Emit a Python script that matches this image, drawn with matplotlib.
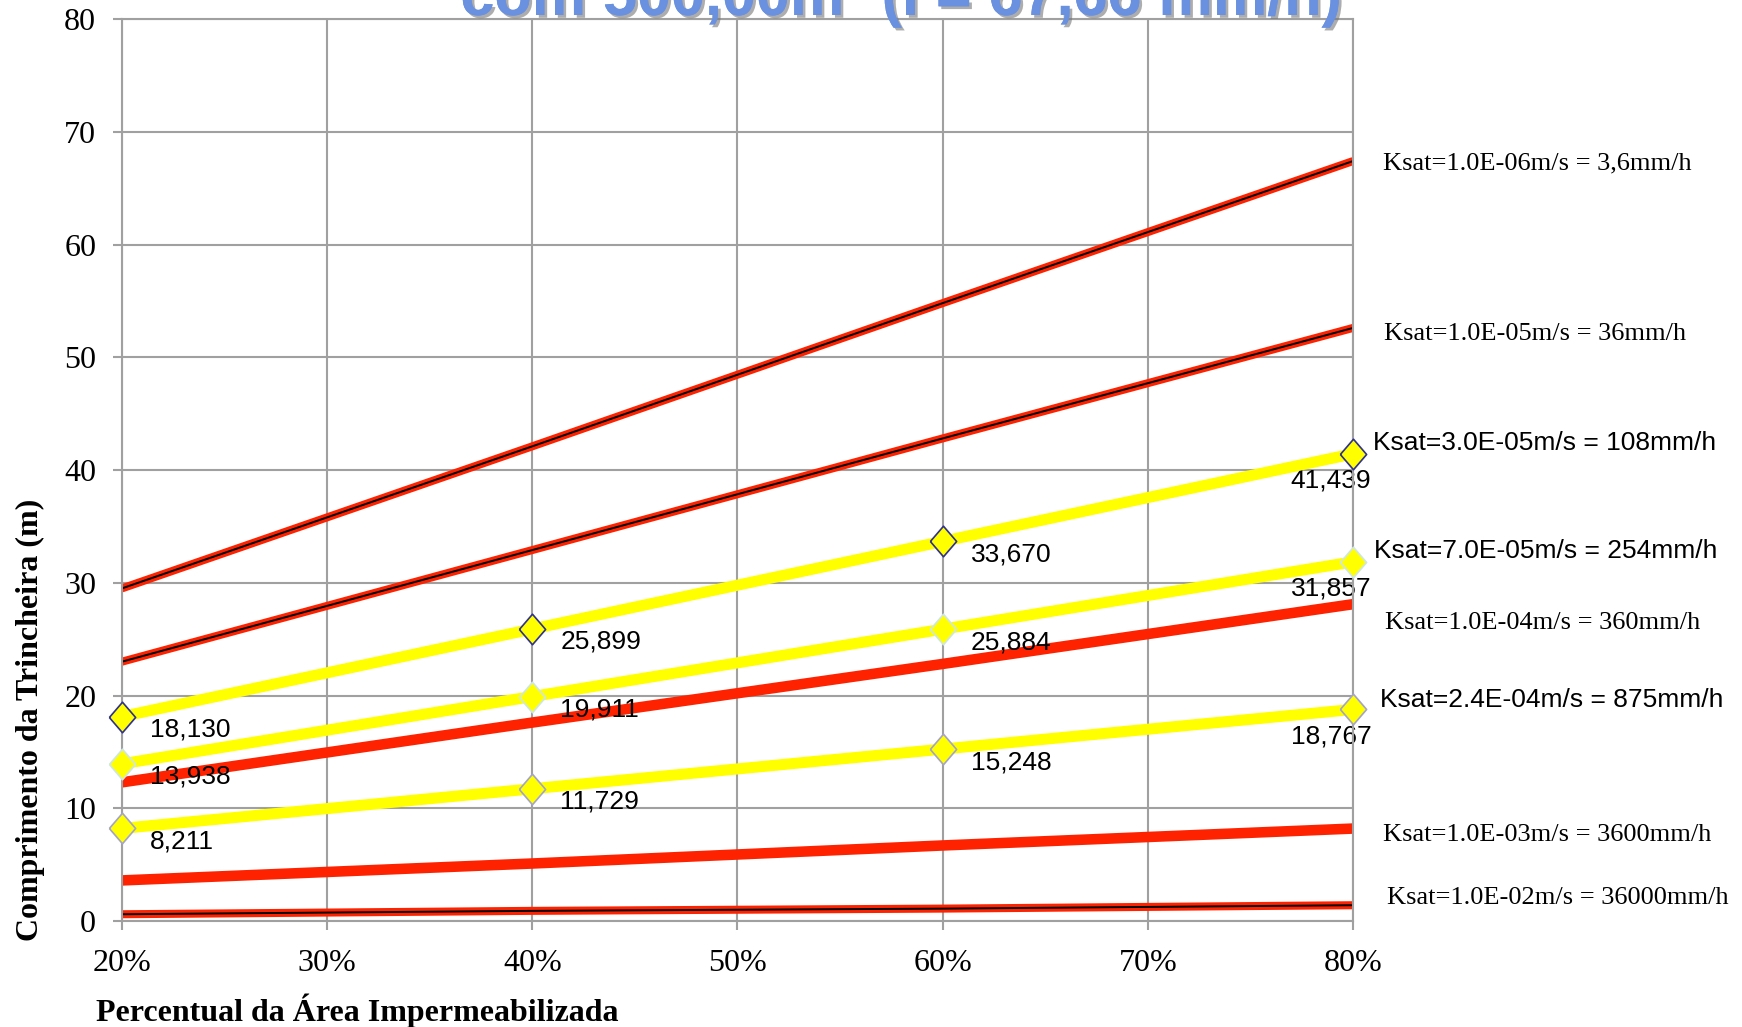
import matplotlib
matplotlib.use("Agg")
import matplotlib.pyplot as plt
import matplotlib.patheffects as pe

# percentage of sealed area (x axis)
area_pct = [20, 40, 60, 80]

# trench length (m) for each saturated hydraulic conductivity
len_ksat_1e06 = [29.5, 42.1, 54.8, 67.4]
len_ksat_1e05 = [23.0, 32.9, 42.8, 52.6]
len_ksat_3e05 = [18.130, 25.899, 33.670, 41.439]
len_ksat_7e05 = [13.938, 19.911, 25.884, 31.857]
len_ksat_1e04 = [12.3, 17.6, 22.8, 28.1]
len_ksat_24e04 = [8.211, 11.729, 15.248, 18.767]
len_ksat_1e03 = [3.6, 5.1, 6.7, 8.2]
len_ksat_1e02 = [0.6, 0.9, 1.1, 1.4]

names = {
    "1e06": "Ksat=1.0E-06m/s = 3,6mm/h",
    "1e05": "Ksat=1.0E-05m/s = 36mm/h",
    "3e05": "Ksat=3.0E-05m/s = 108mm/h",
    "7e05": "Ksat=7.0E-05m/s = 254mm/h",
    "1e04": "Ksat=1.0E-04m/s = 360mm/h",
    "24e04": "Ksat=2.4E-04m/s = 875mm/h",
    "1e03": "Ksat=1.0E-03m/s = 3600mm/h",
    "1e02": "Ksat=1.0E-02m/s = 36000mm/h",
}

title = "com 500,00m\u00b2 (I = 67,66 mm/h)"
x_title = "Percentual da \u00c1rea Impermeabilizada"
y_title = "Comprimento da Trincheira (m)"

SERIF = "Liberation Serif"
SANS = "Liberation Sans"
RED = "#FF2200"
YELLOW = "#FFFF00"
GRID = "#A0A0A0"

# diamond a bit taller than wide
diamond = [(-0.43, 0), (0, 0.5), (0.43, 0), (0, -0.5), (-0.43, 0)]

fig = plt.figure(figsize=(17.42, 10.27), dpi=100)
ax = fig.add_axes([0.0700, 0.1032, 0.7067, 0.8783])

# red series: (values, key, line width, black centre line, label x, label y)
red_series = [
    (len_ksat_1e06, "1e06", 5.8, True, 81.45, 67.2),
    (len_ksat_1e05, "1e05", 5.8, True, 81.5, 52.1),
    (len_ksat_1e04, "1e04", 7.6, False, 81.55, 26.4),
    (len_ksat_1e03, "1e03", 7.6, False, 81.45, 7.6),
    (len_ksat_1e02, "1e02", 5.8, True, 81.65, 2.0),
]
# yellow series: (values, key, marker edge colour, label x, label y)
yellow_series = [
    (len_ksat_3e05, "3e05", "#2E3192", 80.95, 42.4),
    (len_ksat_7e05, "7e05", "#CFE6E8", 81.0, 32.8),
    (len_ksat_24e04, "24e04", "#A3A3CC", 81.3, 19.6),
]

for vals, key, lw, centre, lx, ly in red_series:
    ax.plot(area_pct, vals, color=RED, lw=lw, solid_capstyle="butt", zorder=2)
    if centre:
        ax.plot(area_pct, vals, color="black", lw=1.4, solid_capstyle="butt", zorder=2.1)
    ax.text(lx, ly, names[key], fontsize=19, family=SERIF, va="center", ha="left",
            clip_on=False)

for vals, key, edge, lx, ly in yellow_series:
    ax.plot(area_pct, vals, color=YELLOW, lw=8, solid_capstyle="butt",
            marker=diamond, markersize=22, markerfacecolor=YELLOW,
            markeredgecolor=edge, markeredgewidth=1.2, zorder=3, clip_on=False)
    for i, (x, v) in enumerate(zip(area_pct, vals)):
        txt = f"{v:.3f}".replace(".", ",")
        if i < len(vals) - 1:
            ax.annotate(txt, (x, v), xytext=(28, -13), textcoords="offset pixels",
                        ha="left", va="center", fontsize=19, family=SANS, zorder=2.5)
        else:
            ax.annotate(txt, (x, v), xytext=(-22, -27), textcoords="offset pixels",
                        ha="center", va="center", fontsize=19, family=SANS, zorder=2.5)
    ax.text(lx, ly, names[key], fontsize=19, family=SANS, va="center", ha="left",
            clip_on=False)

ax.set_xlim(20, 80)
ax.set_ylim(0, 80)
ax.set_xticks(range(20, 81, 10))
ax.set_xticklabels([f"{t}%" for t in range(20, 81, 10)])
ax.set_yticks(range(0, 81, 10))
ax.grid(color=GRID, lw=1.5, zorder=0)
ax.set_axisbelow(True)
for sp in ax.spines.values():
    sp.set_color(GRID)
    sp.set_linewidth(1.5)
ax.tick_params(direction="out", length=6.5, width=1.5, color=GRID, labelsize=23)
ax.tick_params(axis="y", pad=12)
ax.tick_params(axis="x", pad=14)
for lab in ax.get_xticklabels() + ax.get_yticklabels():
    lab.set_family(SERIF)

fig.text(30 / 1742, 1 - 720 / 1027, y_title, rotation=90, ha="center", va="center",
         family=SERIF, fontweight="bold", fontsize=23)
fig.text(357 / 1742, 1 - 1011 / 1027, x_title, ha="center", va="center",
         family=SERIF, fontweight="bold", fontsize=23)

fig.text(0.517, 1 - 15 / 1027, title, ha="center", va="baseline", family=SANS,
         fontweight="bold", fontsize=44, color="#6A91E0",
         path_effects=[pe.withSimplePatchShadow(offset=(2, -2), shadow_rgbFace="#777777",
                                                alpha=0.6), pe.Normal()])

fig.savefig("out.png", dpi=100)
